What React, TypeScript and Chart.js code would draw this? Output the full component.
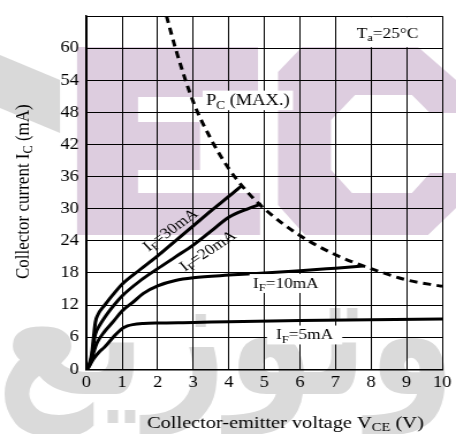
import React, { useEffect, useRef } from "react";
import { Chart, registerables } from "chart.js";

Chart.register(...registerables);

const FONT = '"Liberation Serif", "Times New Roman", serif';

// Axis tick labels
const voltageTicks = ["0", "1", "2", "3", "4", "5", "6", "7", "8", "9", "10"];
const currentTicks = ["0", "6", "12", "18", "24", "30", "36", "42", "48", "54", "60"];

// Maximum collector power dissipation curve
const pcVce = [2.25, 2.5, 3, 3.5, 4, 4.5, 5, 6, 7, 8, 9, 10];
const pcIc = [66, 60, 50, 43, 37.5, 33.3, 30, 25, 21.4, 18.8, 16.7, 15.5];

// Output characteristics, IF = 30 mA
const vce30 = [0, 0.08, 0.15, 0.2, 0.25, 0.32, 0.5, 0.75, 1, 1.5, 2, 2.5, 3, 3.5, 4, 4.36];
const ic30 = [0, 1, 3, 6, 8.8, 10.2, 11.9, 14, 15.9, 18.6, 21.2, 24, 26.8, 29.6, 32.3, 34.3];

// IF = 20 mA
const vce20 = [0, 0.08, 0.15, 0.2, 0.25, 0.35, 0.5, 0.75, 1, 1.5, 2, 2.5, 3, 3.5, 4, 4.5, 4.92];
const ic20 = [0, 0.8, 2.5, 4.8, 6.6, 8, 9.6, 11.8, 13.7, 16.5, 18.8, 21, 23.2, 25.8, 28.4, 29.9, 30.9];

// IF = 10 mA
const vce10 = [0, 0.08, 0.15, 0.22, 0.3, 0.5, 0.75, 1, 1.3, 1.6, 2, 2.5, 3, 4, 5, 6, 7, 7.77];
const ic10 = [0, 0.6, 2, 3.6, 5, 7, 8.9, 10.9, 12.5, 14.2, 15.6, 16.6, 17.1, 17.6, 18, 18.4, 18.9, 19.3];

// IF = 5 mA
const vce5 = [0, 0.1, 0.2, 0.35, 0.5, 0.75, 1, 1.15, 1.3, 1.6, 2, 3, 4, 6, 8, 10];
const ic5 = [0, 0.9, 2, 3.2, 4.1, 6, 7.6, 8.1, 8.35, 8.55, 8.65, 8.75, 8.9, 9.1, 9.25, 9.4];

const PAGE_W = 456;
const PAGE_H = 434;
// The canvas is rendered narrower and shown stretched to the page width
const CANVAS_W = 396;
const SX = PAGE_W / CANVAS_W;

const PLOT_LEFT = 86.5;
const PLOT_RIGHT = 442.3;
const PLOT_TOP = 14;
const PLOT_BOTTOM = 369.3;

type Seg = { t: string; sub?: boolean };
const SUB = 0.72;

function drawRich(
  ctx: CanvasRenderingContext2D,
  segs: Seg[],
  x: number,
  y: number,
  size: number,
  align: "left" | "center"
) {
  const subSize = size * SUB;
  const widths = segs.map((s) => {
    ctx.font = `${s.sub ? subSize : size}px ${FONT}`;
    return ctx.measureText(s.t).width;
  });
  const total = widths.reduce((a, b) => a + b, 0);
  let cx = align === "center" ? x - total / 2 : x;
  ctx.textAlign = "left";
  ctx.textBaseline = "alphabetic";
  ctx.fillStyle = "#000";
  segs.forEach((s, i) => {
    ctx.font = `${s.sub ? subSize : size}px ${FONT}`;
    ctx.fillText(s.t, cx, s.sub ? y + size * 0.22 : y);
    cx += widths[i];
  });
  return total;
}

function measureRich(ctx: CanvasRenderingContext2D, segs: Seg[], size: number) {
  let w = 0;
  segs.forEach((s) => {
    ctx.font = `${s.sub ? size * SUB : size}px ${FONT}`;
    w += ctx.measureText(s.t).width;
  });
  return w;
}

function poly(ctx: CanvasRenderingContext2D, pts: number[][], color: string) {
  ctx.beginPath();
  pts.forEach(([x, y], i) => (i === 0 ? ctx.moveTo(x, y) : ctx.lineTo(x, y)));
  ctx.closePath();
  ctx.fillStyle = color;
  ctx.fill();
}

function drawBackdrop(ctx: CanvasRenderingContext2D) {
  ctx.save();
  ctx.scale(1 / SX, 1);
  ctx.fillStyle = "#fff";
  ctx.fillRect(0, 0, PAGE_W, PAGE_H);
  const pink = "#ddcddf";
  // "E" emblem
  poly(
    ctx,
    [
      [77, 47], [258, 47], [258, 97], [138, 97], [138, 122], [200, 122], [200, 170],
      [138, 170], [138, 193], [260, 193], [260, 235], [77, 235],
    ],
    pink
  );
  // "C" emblem
  poly(
    ctx,
    [
      [278, 72], [302, 47], [418, 47], [456, 80], [456, 113], [430, 113], [412, 95],
      [355, 95], [331, 120], [331, 170], [352, 193], [412, 193], [430, 173], [456, 173],
      [456, 208], [428, 235], [305, 235], [278, 205],
    ],
    pink
  );
  // grey swoosh at the left edge
  poly(ctx, [[0, 55], [60, 80], [60, 133], [0, 108]], "#d9d9d9");
  // grey Arabic lettering along the bottom
  ctx.save();
  ctx.translate(226, 394);
  ctx.scale(0.8, 1);
  ctx.fillStyle = "#dadada";
  ctx.font = 'bold 176px "DejaVu Sans"';
  ctx.direction = "rtl";
  ctx.textAlign = "center";
  ctx.textBaseline = "alphabetic";
  ctx.fillText("وتوزيع", 0, 0);
  ctx.restore();
  ctx.restore();
}

const decorPlugin = {
  id: "decor",
  beforeDraw(chart: Chart) {
    drawBackdrop(chart.ctx);
  },
  afterDraw(chart: Chart) {
    const ctx = chart.ctx;
    const xs = chart.scales.x;
    const ys = chart.scales.y;
    const px = (v: number) => xs.getPixelForValue(v);
    const py = (v: number) => ys.getPixelForValue(v);
    ctx.direction = "ltr";

    const boxed = (segs: Seg[], v: number, i: number, size: number, padX: number) => {
      const w = measureRich(ctx, segs, size);
      const x0 = px(v);
      const y0 = py(i);
      ctx.fillStyle = "#fff";
      ctx.fillRect(x0 - padX, y0 - size * 0.66 - 4, w + padX * 2, size * 0.66 + 9);
      drawRich(ctx, segs, x0, y0, size, "left");
    };

    // Ambient temperature note in the top-right cell
    ctx.fillStyle = "#fff";
    ctx.fillRect(px(7) + 1, py(66) + 1, px(10) - px(7) - 2, py(60) - py(66) - 2);
    drawRich(ctx, [{ t: "T" }, { t: "a", sub: true }, { t: "=25°C" }], px(7.6), py(61.9), 15, "left");

    boxed([{ t: "P" }, { t: "C", sub: true }, { t: " (MAX.)" }], 3.36, 49.35, 16, 3);
    boxed([{ t: "I" }, { t: "F", sub: true }, { t: "=10mA" }], 4.68, 15.2, 15, 3);
    boxed([{ t: "I" }, { t: "F", sub: true }, { t: "=5mA" }], 5.33, 5.58, 15, 8);

    const rotated = (segs: Seg[], v: number, i: number, deg: number) => {
      ctx.save();
      ctx.translate(px(v), py(i));
      ctx.rotate((deg * Math.PI) / 180);
      drawRich(ctx, segs, 0, 5, 15, "center");
      ctx.restore();
    };
    rotated([{ t: "I" }, { t: "F", sub: true }, { t: "=30mA" }], 2.35, 26.1, -40);
    rotated([{ t: "I" }, { t: "F", sub: true }, { t: "=20mA" }], 3.4, 22.2, -37);

    // Axis titles
    drawRich(
      ctx,
      [{ t: "Collector-emitter voltage V" }, { t: "CE", sub: true }, { t: " (V)" }],
      147 / SX,
      427.5,
      17.7,
      "left"
    );
    ctx.save();
    ctx.translate(28.5 / SX, (PLOT_TOP + PLOT_BOTTOM) / 2);
    ctx.rotate(-Math.PI / 2);
    drawRich(ctx, [{ t: "Collector current I" }, { t: "C", sub: true }, { t: " (mA)" }], 0, 0, 17, "center");
    ctx.restore();
  },
};

const toPoints = (xs: number[], ys: number[]) => xs.map((x, i) => ({ x, y: ys[i] }));

export default function App() {
  const canvasRef = useRef<HTMLCanvasElement | null>(null);

  useEffect(() => {
    const canvas = canvasRef.current;
    if (!canvas) return;
    const curve = (data: { x: number; y: number }[]) => ({
      data,
      borderColor: "#000",
      borderWidth: 3,
      pointRadius: 0,
      fill: false,
      cubicInterpolationMode: "monotone" as const,
    });
    const chart = new Chart(canvas, {
      type: "line",
      data: {
        datasets: [
          {
            ...curve(toPoints(pcVce, pcIc)),
            borderDash: [7, 5],
            borderWidth: 3,
          },
          curve(toPoints(vce30, ic30)),
          curve(toPoints(vce20, ic20)),
          curve(toPoints(vce10, ic10)),
          curve(toPoints(vce5, ic5)),
        ],
      },
      options: {
        animation: false,
        responsive: false,
        devicePixelRatio: 1,
        layout: {
          padding: { left: 0, top: PLOT_TOP, right: CANVAS_W - PLOT_RIGHT / SX, bottom: 0 },
        },
        plugins: {
          legend: { display: false },
          tooltip: { enabled: false },
        },
        scales: {
          x: {
            type: "linear",
            min: 0,
            max: 10,
            afterFit: (s: any) => {
              s.height = PAGE_H - PLOT_BOTTOM;
            },
            ticks: {
              stepSize: 1,
              autoSkip: false,
              maxRotation: 0,
              padding: 4,
              color: "#000",
              font: { family: FONT, size: 16 },
              callback: (v: any) => voltageTicks[Math.round(Number(v))] ?? "",
            },
            grid: { color: "#000", lineWidth: 1, drawTicks: false },
            border: { color: "#000", width: 1.5 },
          },
          y: {
            type: "linear",
            min: 0,
            max: 66,
            afterFit: (s: any) => {
              s.width = PLOT_LEFT / SX;
            },
            ticks: {
              stepSize: 6,
              autoSkip: false,
              padding: 6.5,
              color: "#000",
              font: { family: FONT, size: 16 },
              callback: (v: any) => currentTicks[Math.round(Number(v) / 6)] ?? "",
            },
            grid: { color: "#000", lineWidth: 1, drawTicks: false },
            border: { color: "#000", width: 1.5 },
          },
        },
      },
      plugins: [decorPlugin],
    });
    return () => chart.destroy();
  }, []);

  return (
    <div
      style={{
        position: "fixed",
        left: 0,
        top: 0,
        width: PAGE_W,
        height: PAGE_H,
        background: "#fff",
        overflow: "hidden",
      }}
    >
      <canvas
        ref={canvasRef}
        width={CANVAS_W}
        height={PAGE_H}
        style={{ width: `${PAGE_W}px`, height: `${PAGE_H}px`, display: "block" }}
      />
    </div>
  );
}
